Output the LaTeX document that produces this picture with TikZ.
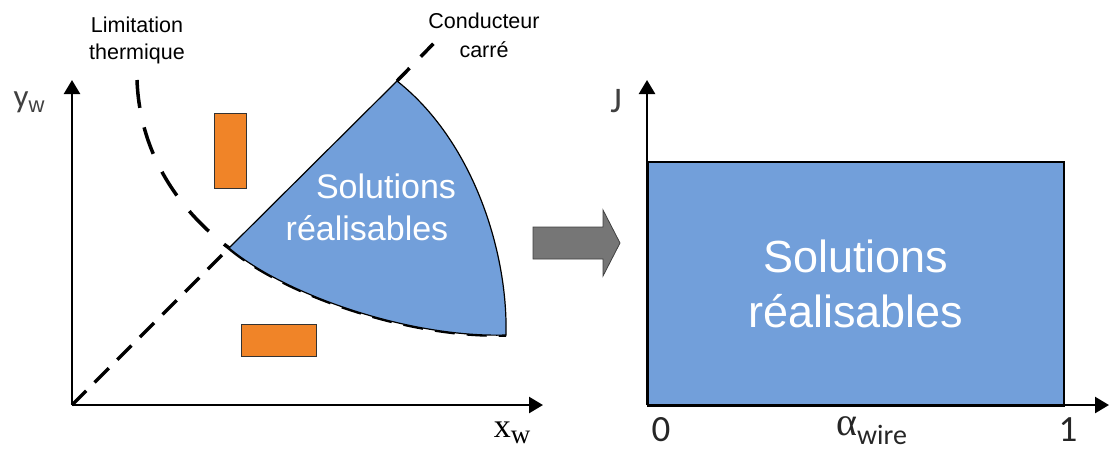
\documentclass[tikz,border=0pt]{standalone}
\usepackage{fontspec}
\setmainfont{Liberation Sans}
\newfontfamily\carl{Carlito}
\newfontfamily\serifw{Liberation Serif}
\usetikzlibrary{arrows.meta}
\definecolor{regblue}{RGB}{114,159,218}
\definecolor{orng}{RGB}{240,132,40}
\definecolor{arrgray}{RGB}{118,118,118}
\definecolor{lblgray}{RGB}{64,64,64}
\begin{document}
\begin{tikzpicture}[x=1pt,y=-1pt,
  axis/.style={line width=2.5pt,-{Triangle[length=14pt,width=16pt]}},
  dsh/.style={line width=3.5pt,dash pattern=on 20pt off 12pt},
  dshth/.style={line width=3.5pt,dash pattern=on 28pt off 20pt},
  orngbox/.style={draw=black!80,line width=1pt,fill=orng,inner sep=0pt},
  lbl/.style={inner sep=0pt,align=center},
  whitetxt/.style={text=white,inner sep=0pt,align=center}]
\useasboundingbox (0,0) rectangle (1110,450);
% key points
\coordinate (O1) at (72,405);
\coordinate (Y1) at (72,80);
\coordinate (X1) at (543,405);
\coordinate (A) at (229,248);
\coordinate (B) at (397,81);
\coordinate (C) at (506,335);
\coordinate (D) at (437,40);
\coordinate (T0) at (137,80);
% dashed curves
\draw[dsh] (O1) -- (A);
\draw[dsh,dash pattern=on 18pt off 16pt] (B) -- (D);
\draw[dshth] (T0) .. controls (140,160) and (185,215) .. (A);
\draw[dsh] (A) .. controls (285,295) and (410,338) .. (C);
% feasible region
\filldraw[fill=regblue,draw=black,line width=1.2pt]
  (A) -- (B) .. controls (472,140) and (508,250) .. (C)
  .. controls (410,338) and (285,295) .. (A) -- cycle;
\node[whitetxt,font=\fontsize{34}{40}\selectfont] (sol1) at (386,186) {Solutions};
\node[whitetxt,font=\fontsize{34}{40}\selectfont] (sol2) at (367,228) {réalisables};
% orange conductors
\node[orngbox,minimum width=32pt,minimum height=75pt] (r1) at (230,150.5) {};
\node[orngbox,minimum width=75pt,minimum height=32pt] (r2) at (278.5,340) {};
% left axes
\draw[axis] (O1) -- (Y1);
\draw[axis] (O1) -- (X1);
\node[lbl,text=lblgray] (yw) at (29,102) {{\carl\fontsize{33}{33}\selectfont y}\raisebox{-5pt}{\fontsize{22}{22}\selectfont w}};
\node[lbl] (xw) at (512,433) {{\serifw\fontsize{34}{34}\selectfont x}\raisebox{-6pt}{\serifw\fontsize{27}{27}\selectfont w}};
\node[lbl,font=\fontsize{21.5}{27}\selectfont] (lim) at (137,40) {Limitation\\thermique};
\node[lbl,font=\fontsize{21.5}{29}\selectfont] (cond) at (484,35) {Conducteur\\carré};
% gray transition arrow
\filldraw[fill=arrgray,draw=lblgray,line width=0.8pt]
  (533,227) -- (603,227) -- (603,210) -- (620,243) -- (603,276) -- (603,259) -- (533,259) -- cycle;
% right diagram
\coordinate (O2) at (647,405);
\coordinate (Y2) at (647,80);
\coordinate (X2) at (1109,405);
\node[draw=black,line width=1.5pt,fill=regblue,minimum width=416pt,minimum height=244pt,anchor=north west,
  text=white,align=center,font=\fontsize{45}{55}\selectfont] (rect) at (647,161) {Solutions\\réalisables};
\draw[axis] (O2) -- (Y2);
\draw[axis] (O2) -- (X2);
\node[lbl,text=lblgray,font=\carl\fontsize{36}{36}\selectfont] (J) at (616,101) {J};
\node[lbl,text=black!85,font=\carl\fontsize{37}{37}\selectfont] (zero) at (661,430) {0};
\node[lbl,text=black!85,font=\carl\fontsize{37}{37}\selectfont] (one) at (1068,430) {1};
\node[lbl,text=black!85,anchor=base west] (alpha) at (836,435) {{\serifw\fontsize{40}{40}\selectfont α}\raisebox{-9pt}{\carl\fontsize{28}{28}\selectfont wire}};
\end{tikzpicture}
\end{document}
